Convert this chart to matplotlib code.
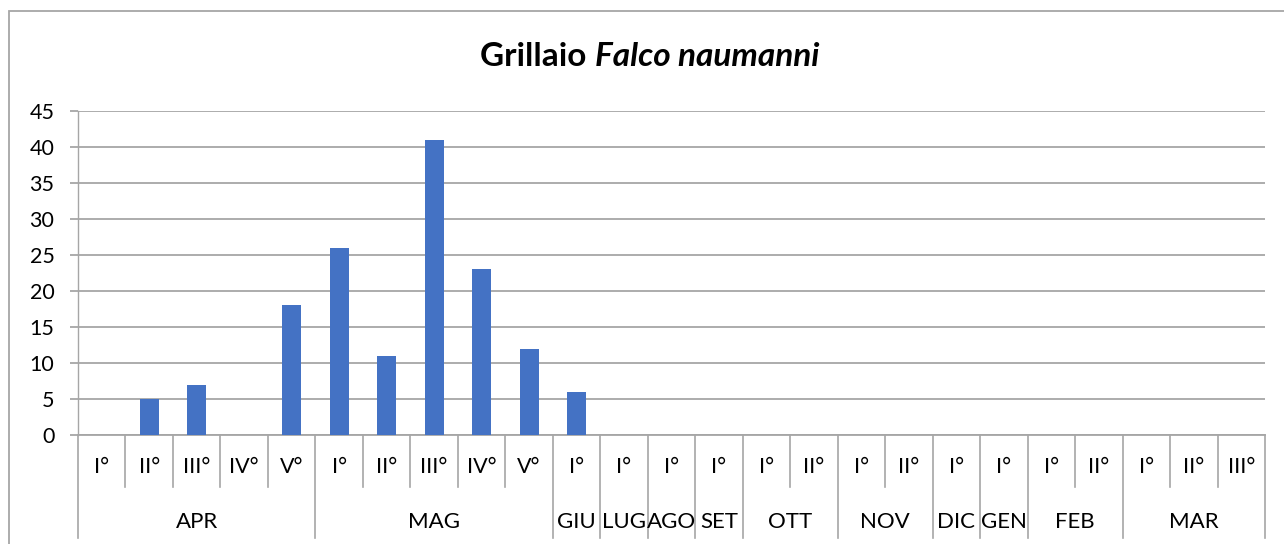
import matplotlib.pyplot as plt
from matplotlib.patches import Rectangle
from matplotlib.transforms import blended_transform_factory

# dati: mesi, decadi e conteggi
mesi = ['APR', 'MAG', 'GIU', 'LUG', 'AGO', 'SET', 'OTT', 'NOV', 'DIC', 'GEN', 'FEB', 'MAR']
decadi = [['I°', 'II°', 'III°', 'IV°', 'V°'],
          ['I°', 'II°', 'III°', 'IV°', 'V°'],
          ['I°'], ['I°'], ['I°'], ['I°'],
          ['I°', 'II°'], ['I°', 'II°'],
          ['I°'], ['I°'],
          ['I°', 'II°'],
          ['I°', 'II°', 'III°']]
valori = [0, 5, 7, 0, 18,
          26, 11, 41, 23, 12,
          6, 0, 0, 0,
          0, 0, 0, 0,
          0, 0,
          0, 0,
          0, 0, 0]

plt.rcParams['font.family'] = ['Lato', 'DejaVu Sans']
grigio = '#A6A6A6'
fs = 15.5

fig = plt.figure(figsize=(12.84, 5.44), dpi=100)
ax = fig.add_axes([78/1284, 109/544, (1265-78)/1284, 324/544])

n = len(valori)
x = list(range(n))
ax.bar(x, valori, width=0.4, color='#4472C4', zorder=3)

ax.set_xlim(-0.5, n - 0.5)
ax.set_ylim(0, 45)
ax.set_yticks(range(0, 46, 5))
ax.yaxis.grid(True, color=grigio, linewidth=1.3)
ax.set_axisbelow(True)
ax.tick_params(axis='y', length=6, color=grigio, width=1.3, pad=11, labelsize=fs)
ax.set_xticks([])
for s in ['top', 'right']:
    ax.spines[s].set_visible(False)
ax.spines['left'].set_color(grigio)
ax.spines['left'].set_linewidth(1.0)
ax.spines['bottom'].set_color(grigio)
ax.spines['bottom'].set_linewidth(1.3)

tr = blended_transform_factory(ax.transData, ax.transAxes)
y_sub = -52/324
y_mese = -103/324

# etichette a due livelli
i = 0
for m, dd in zip(mesi, decadi):
    start = i
    ax.plot([start - 0.5, start - 0.5], [0, y_mese], transform=tr, color=grigio, lw=1.2, clip_on=False)
    for d in dd:
        if i > start:
            ax.plot([i - 0.5, i - 0.5], [0, y_sub], transform=tr, color=grigio, lw=1.2, clip_on=False)
        ax.text(i, -32/324, d, transform=tr, ha='center', va='center', fontsize=fs)
        i += 1
    ax.text((start + i - 1) / 2, -87/324, m, transform=tr, ha='center', va='center', fontsize=fs + 0.5)
ax.plot([n - 0.5, n - 0.5], [0, y_mese], transform=tr, color=grigio, lw=1.2, clip_on=False)

# titolo
xt = 595/1284
fig.text(xt, 1 - 66/544, 'Grillaio ', ha='right', va='baseline', fontsize=24, fontweight='bold')
fig.text(xt, 1 - 66/544, 'Falco naumanni', ha='left', va='baseline', fontsize=24,
         fontweight='bold', fontstyle='italic')

# bordo del grafico
fig.patches.append(Rectangle((9/1284, -0.1), 1.2, 1.1 - 11/544, transform=fig.transFigure,
                             fill=False, edgecolor=grigio, linewidth=1.3))

fig.savefig('out.png', dpi=100)
